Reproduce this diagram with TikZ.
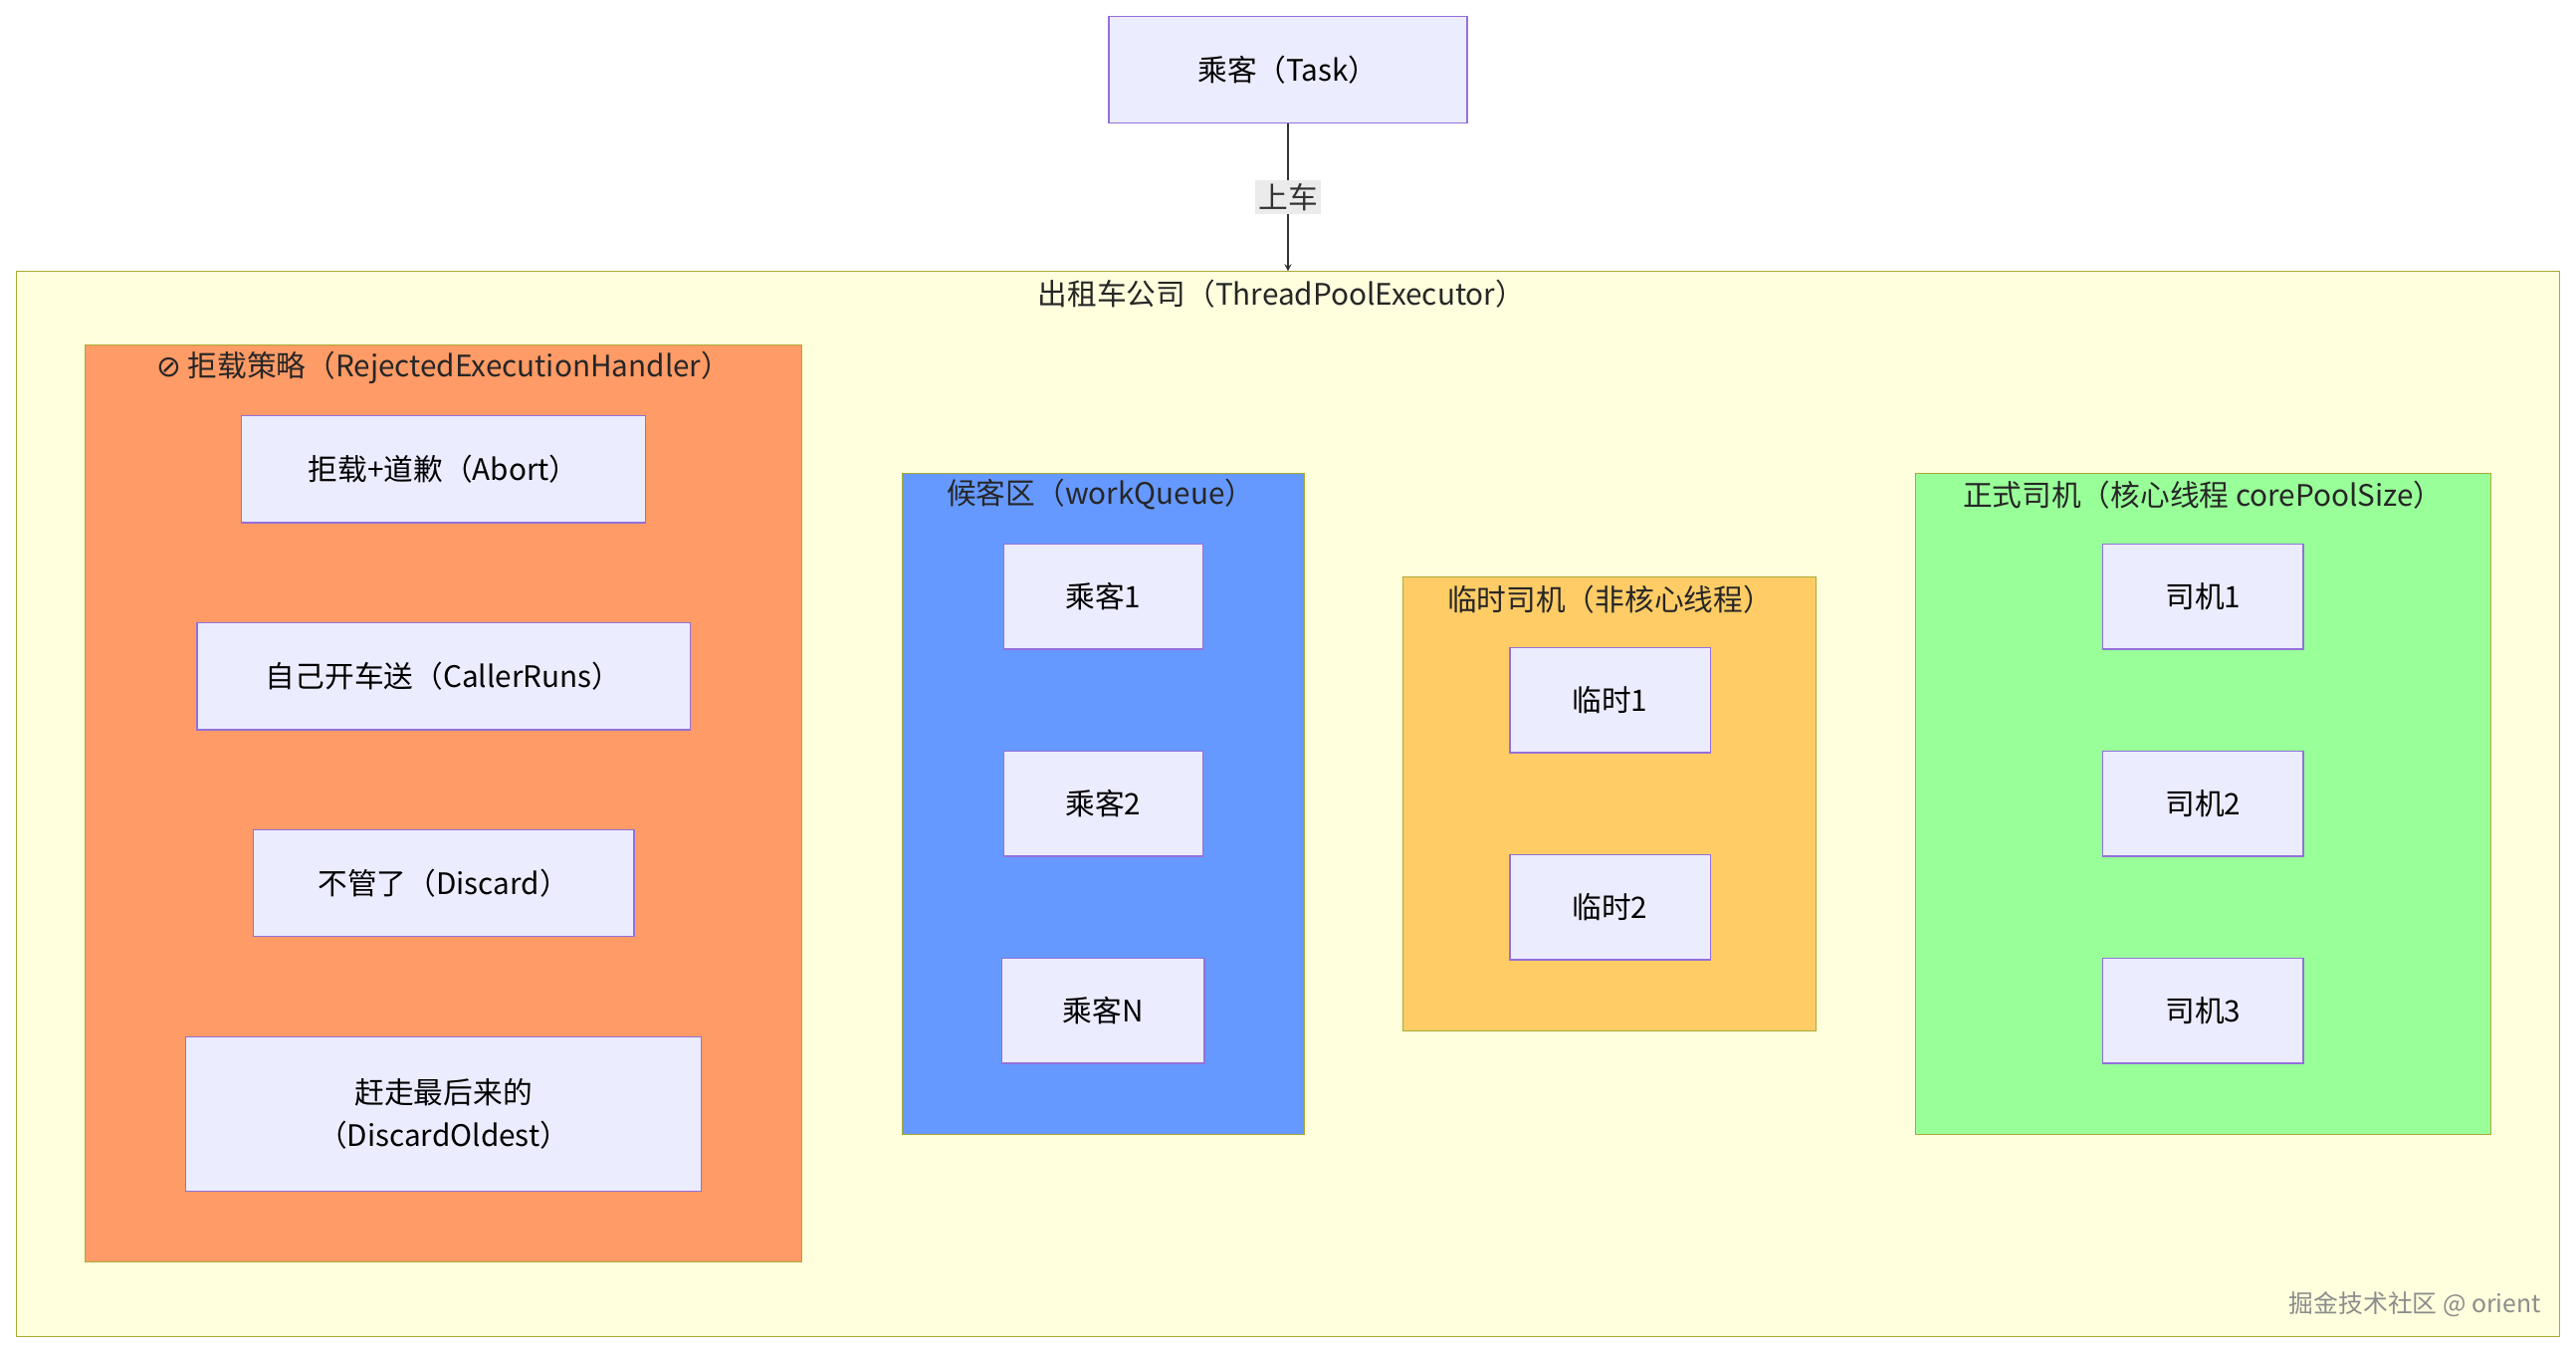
\documentclass[tikz,border=0pt]{standalone}
\usepackage{fontspec}
\setmainfont{Noto Sans CJK SC}
\newfontfamily\sym{DejaVu Sans}
\begin{document}
\begin{tikzpicture}[x=1pt,y=-1pt,font=\fontsize{18}{26}\selectfont,
  item/.style={draw=pur,fill=ecf,line width=0.8pt,align=center},
  ttl/.style={anchor=center,text=black!85}]
\definecolor{ecf}{HTML}{ECECFF}
\definecolor{pur}{HTML}{9370DB}
\definecolor{outer}{HTML}{FFFFDE}
\definecolor{rej}{HTML}{FF9B66}
\definecolor{que}{HTML}{6699FF}
\definecolor{tmp}{HTML}{FFCC66}
\definecolor{cor}{HTML}{99FF99}
\definecolor{bd}{HTML}{AAAA33}
\useasboundingbox (0,0) rectangle (1568,823);
\fill[white] (0,0) rectangle (1568,823);
\draw[fill=outer,draw=bd] (10,165) rectangle (1558,813);
\node[ttl] (t0) at (780,179) {出租车公司（ThreadPoolExecutor）};
\draw[fill=rej,draw=bd] (52,210) rectangle (488,768);
\node[ttl] (t1) at (270,224) {{\sym ⊘} 拒载策略（RejectedExecutionHandler）};
\draw[fill=que,draw=bd] (549,288) rectangle (794,690);
\node[ttl] (t2) at (670,301) {候客区（workQueue）};
\draw[fill=tmp,draw=bd] (854,351) rectangle (1105,627);
\node[ttl] (t3) at (980,365) {临时司机（非核心线程）};
\draw[fill=cor,draw=bd] (1166,288) rectangle (1516,690);
\node[ttl] (t4) at (1341,301) {正式司机（核心线程 corePoolSize）};
\coordinate (top) at (784,165);
\node[item,minimum width=218pt,minimum height=65pt] (task) at (784,42.5) {乘客（Task）};
\node[item,minimum width=246pt,minimum height=65pt] (a) at (270,285.5) {拒载+道歉（Abort）};
\node[item,minimum width=300pt,minimum height=65pt] (b) at (270,411.5) {自己开车送（CallerRuns）};
\node[item,minimum width=232pt,minimum height=65pt] (c) at (270,537.5) {不管了（Discard）};
\node[item,minimum width=314pt,minimum height=94pt] (d) at (270,678) {赶走最后来的\\（DiscardOldest）};
\node[item,minimum width=121pt,minimum height=64pt] (q1) at (671.5,363) {乘客1};
\node[item,minimum width=121pt,minimum height=64pt] (q2) at (671.5,489) {乘客2};
\node[item,minimum width=123pt,minimum height=64pt] (q3) at (671.5,615) {乘客N};
\node[item,minimum width=122pt,minimum height=64pt] (p1) at (980,426) {临时1};
\node[item,minimum width=122pt,minimum height=64pt] (p2) at (980,552) {临时2};
\node[item,minimum width=122pt,minimum height=64pt] (s1) at (1341,363) {司机1};
\node[item,minimum width=122pt,minimum height=64pt] (s2) at (1341,489) {司机2};
\node[item,minimum width=122pt,minimum height=64pt] (s3) at (1341,615) {司机3};
\draw[-stealth,line width=0.9pt,black!80] (task) -- node[fill=black!8,inner sep=2pt] (lab) {上车} (top);
\node[text=black!45,font=\fontsize{15}{18}\selectfont] (wm) at (1470,794) {掘金技术社区 @ orient};
\end{tikzpicture}
\end{document}
